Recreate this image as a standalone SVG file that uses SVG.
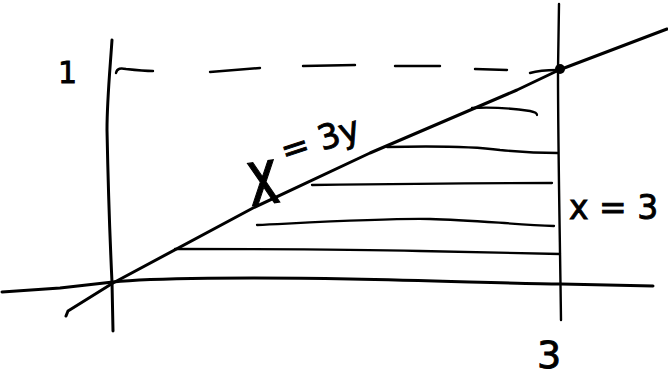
<svg xmlns="http://www.w3.org/2000/svg" width="668" height="377" viewBox="0 0 668 377">
<style>
.ink{fill:none;stroke:#000;stroke-width:3;stroke-linecap:round;stroke-linejoin:round}
.hatch{fill:none;stroke:#000;stroke-width:2.3;stroke-linecap:round}
.dash{fill:none;stroke:#000;stroke-width:2.4;stroke-linecap:round}
.lbl{font-family:"DejaVu Sans","Liberation Sans",sans-serif;fill:#000;stroke:#000;stroke-width:0.9}
</style>
<rect width="668" height="377" fill="#fff"/>
<g id="axes">
<path class="ink" d="M112,40 C110,70 107,100 107,130 C108,180 110,240 112,282 L113,331"/>
<path class="ink" d="M2,292 L60,288 L113,282 C150,278 250,277 350,279 C450,281 520,284 561,284 L653,286"/>
<path class="ink" d="M559,4 L558,70 C558,150 560,240 561,320" style="stroke-width:2.4"/>
</g>
<g id="curve">
<path class="ink" d="M66,316 L68,311 L113,283 L253,208 L370,153 L517,90 L559,70 L667,29"/>
<circle cx="560" cy="69" r="5" fill="#000"/>
</g>
<g id="dashes">
<path class="dash" d="M116,73 C117,68 121,68 126,69 C135,70 145,71 153,71"/>
<path class="dash" d="M210,72 L260,68"/>
<path class="dash" d="M303,66 L355,65"/>
<path class="dash" d="M395,66 L440,66"/>
<path class="dash" d="M475,69 L507,70"/>
<path class="dash" d="M530,73 C540,70 550,70 557,70"/>
</g>
<g id="hatching">
<path class="hatch" d="M472,108 C490,107 510,108 530,111 C535,112 537,113 537,115"/>
<path class="hatch" d="M387,147 C430,146 470,146 500,150 C520,152 540,153 558,153"/>
<path class="hatch" d="M312,185 C380,184 460,183 552,183"/>
<path class="hatch" d="M257,225 C320,222 390,218 430,219 C470,220 510,224 554,226"/>
<path class="hatch" d="M175,249 C260,249 340,249 420,251 C480,252 530,253 560,254"/>
</g>
<g id="labels">
<text class="lbl" x="0" y="0" font-size="52" transform="translate(251,206) rotate(-8) scale(1,1.5)">x</text>
<text class="lbl" x="285" y="163" font-size="34" transform="rotate(-18 285 163)">= 3y</text>
<text class="lbl" x="58" y="83" font-size="30">1</text>
<text class="lbl" x="569" y="219" font-size="33">x = 3</text>
<text class="lbl" x="537" y="368" font-size="38">3</text>
</g>
</svg>
